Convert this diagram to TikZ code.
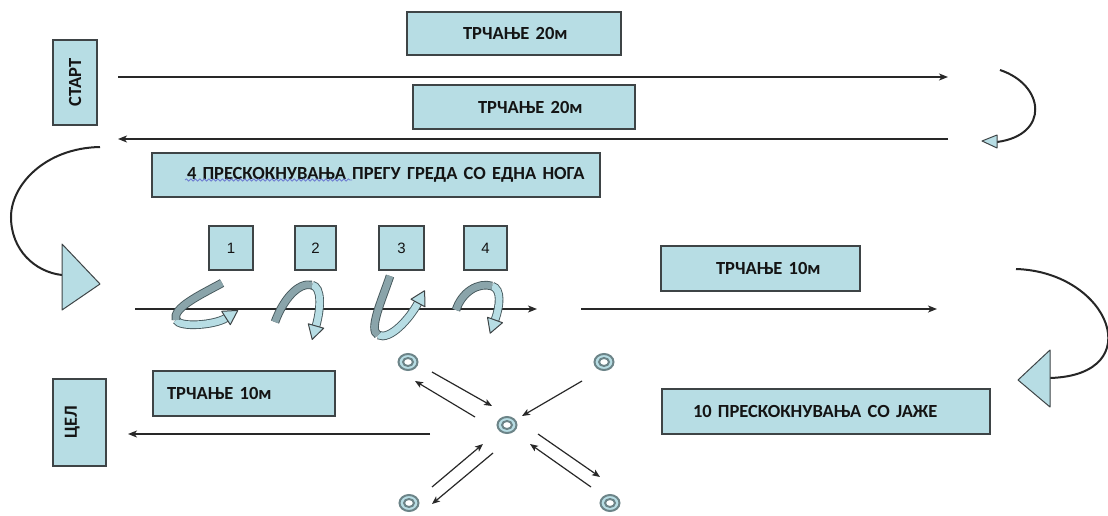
\documentclass[tikz,border=0pt]{standalone}
\usepackage{fontspec}
\setmainfont{Carlito}
\newfontfamily\numfont{Liberation Sans}
\usetikzlibrary{arrows.meta,shapes.geometric,decorations.pathmorphing}
\definecolor{boxfill}{RGB}{183,221,228}
\definecolor{boxline}{RGB}{62,68,70}
\definecolor{txt}{RGB}{20,20,20}
\definecolor{ribdark}{RGB}{138,164,170}
\definecolor{ribline}{RGB}{70,88,92}
\definecolor{ringline}{RGB}{108,132,136}
\definecolor{linec}{RGB}{40,40,40}
\definecolor{squig}{RGB}{110,125,210}
\begin{document}
\begin{tikzpicture}[x=1pt,y=-1pt,
  every node/.style={inner sep=0pt, outer sep=0pt},
  lbox/.style={draw=boxline, fill=boxfill, line width=1.2pt, text=txt,
    font=\fontsize{18.5}{22}\selectfont\bfseries, align=left},
  nbox/.style={draw=boxline, fill=boxfill, line width=1.2pt, text=txt,
    font=\numfont\fontsize{15}{18}\selectfont, minimum height=44pt},
  flow/.style={draw=linec, line width=1.3pt, -{Stealth[length=9pt,width=7pt,inset=2.5pt]}},
  small/.style={draw=linec, line width=1.2pt, -{Stealth[length=8pt,width=6.5pt,inset=2pt]}},
  turn/.style={draw=black!85, line width=2pt},
  head/.style={draw=boxline, fill=boxfill, line width=1pt, line join=round},
  ribL/.style={draw=ribline, line width=0.9pt, double=boxfill, double distance=6.8pt},
  ribD/.style={draw=ribline, line width=0.9pt, double=ribdark, double distance=6.8pt},
  ring/.style={ellipse, draw=ringline, line width=2pt, fill=boxfill, minimum width=19pt, minimum height=16pt},
  ringin/.style={draw=ringline, line width=2pt, fill=white}
]
\fill[white] (0,0) rectangle (1108,516);
\useasboundingbox (0,0) rectangle (1108,516);

% boxes
\node[lbox, rotate=90, minimum width=85pt, minimum height=44pt, align=center] (start) at (75,82.5) {СТАРТ};
\node[lbox, rotate=90, minimum width=87pt, minimum height=53pt, align=center] (cel) at (79.5,422.5) {ЦЕЛ\rule[-17pt]{0pt}{1pt}};
\node[lbox, minimum width=214pt, minimum height=43pt, text width=206pt] (r1) at (514,33.5) {\hspace*{52pt}ТРЧАЊЕ 20м};
\node[lbox, minimum width=222pt, minimum height=44pt, text width=214pt] (r2) at (524,107) {\hspace*{61pt}ТРЧАЊЕ 20м};
\node[lbox, minimum width=448pt, minimum height=44pt, text width=440pt] (jump) at (376,175) {\hspace*{31pt}4 ПРЕСКОКНУВАЊА ПРЕГУ ГРЕДА СО ЕДНА НОГА};
\node[lbox, minimum width=199pt, minimum height=45pt, text width=191pt] (r3) at (760.5,268.5) {\hspace*{51pt}ТРЧАЊЕ 10м};
\node[lbox, minimum width=182pt, minimum height=45pt, text width=174pt] (r4) at (244,393.5) {\hspace*{10pt}ТРЧАЊЕ 10м};
\node[lbox, minimum width=328pt, minimum height=45pt, text width=320pt] (rope) at (826,411.5) {\hspace*{27pt}10 ПРЕСКОКНУВАЊА СО ЈАЖЕ};
\draw[squig, line width=0.8pt, decorate, decoration={snake, amplitude=1.1pt, segment length=4.5pt}] (185,180) -- (352,180);

\node[nbox, minimum width=44pt] (n1) at (231,248) {1};
\node[nbox, minimum width=41pt] (n2) at (315.5,248) {2};
\node[nbox, minimum width=45pt] (n3) at (401.5,248) {3};
\node[nbox, minimum width=43pt] (n4) at (485.5,248) {4};

% straight arrows
\coordinate (a1s) at (118,77);  \coordinate (a1e) at (948,77);
\coordinate (a2s) at (948,139); \coordinate (a2e) at (118,139);
\coordinate (a3s) at (135,309); \coordinate (a3e) at (537,309);
\coordinate (a4s) at (581,309); \coordinate (a4e) at (937,309);
\coordinate (a5s) at (430,434); \coordinate (a5e) at (128,434);
\draw[flow] (a1s) -- (a1e);
\draw[flow] (a2s) -- (a2e);
\draw[flow] (a3s) -- (a3e);
\draw[flow] (a4s) -- (a4e);
\draw[flow] (a5s) -- (a5e);

% turning curves with triangles
\coordinate (t1s) at (1000,70); \coordinate (t1e) at (997,142);
\draw[turn] (t1s) .. controls (1045,85) and (1050,135) .. (t1e);
\draw[head] (997,135) -- (982,141) -- (997,148) -- cycle;

\coordinate (t2s) at (100,147); \coordinate (t2m) at (11,217); \coordinate (t2e) at (62,275);
\draw[turn] (t2s) .. controls (45,148) and (11,185) .. (t2m) .. controls (11,250) and (35,272) .. (t2e);
\draw[head] (62,244) -- (100,284) -- (62,310) -- cycle;

\coordinate (t3s) at (1016,269); \coordinate (t3e) at (1050,378);
\draw[turn] (t3s) .. controls (1110,272) and (1150,375) .. (t3e);
\draw[head] (1050,350) -- (1018,380) -- (1050,407) -- cycle;

% swirl arrows
\draw[ribL] (176,320) .. controls (180,328) and (215,325) .. (226,318);
\draw[head] (230.3,324.7) -- (237.8,310.4) -- (221.7,311.3) -- cycle;
\draw[ribD] (222,283) .. controls (200,295) and (172,308) .. (176,320);

\draw[ribL] (312,285) .. controls (322,287) and (321,308) .. (316,326);
\draw[head] (323.7,328.2) -- (312.2,339.4) -- (308.3,323.8) -- cycle;
\draw[ribD] (275,322) .. controls (283,300) and (298,282) .. (312,285);

\draw[ribL] (378,335) .. controls (390,341) and (410,318) .. (418,303);
\draw[head] (425,306.8) -- (424.6,290.7) -- (411,299.2) -- cycle;
\draw[ribD] (390,276) .. controls (382,300) and (368,330) .. (378,335);

\draw[ribL] (492,286) .. controls (502,289) and (500,306) .. (495,320);
\draw[head] (502.5,322.7) -- (490.2,333.2) -- (487.5,317.3) -- cycle;
\draw[ribD] (456,310) .. controls (462,292) and (478,282) .. (492,286);

% targets
\foreach \n/\p in {c1/{(408,362)}, c2/{(604,362)}, c0/{(507,425)}, c3/{(409,503)}, c4/{(610,503)}}{
  \node[ring] (\n) at \p {};
  \draw[ringin] (\n.center) ellipse [x radius=5, y radius=4];
}

% arrows between targets
\coordinate (pA) at (432,372); \coordinate (qA) at (492,406);
\coordinate (pB) at (475,417); \coordinate (qB) at (415,381);
\coordinate (pC) at (582,381); \coordinate (qC) at (522,416);
\coordinate (pD) at (432,487); \coordinate (qD) at (483,444);
\coordinate (pE) at (493,453); \coordinate (qE) at (432,504);
\coordinate (pF) at (538,434); \coordinate (qF) at (600,477);
\coordinate (pG) at (591,487); \coordinate (qG) at (530,444);
\foreach \k in {A,B,C,D,E,F,G}{ \draw[small] (p\k) -- (q\k); }
\end{tikzpicture}
\end{document}
